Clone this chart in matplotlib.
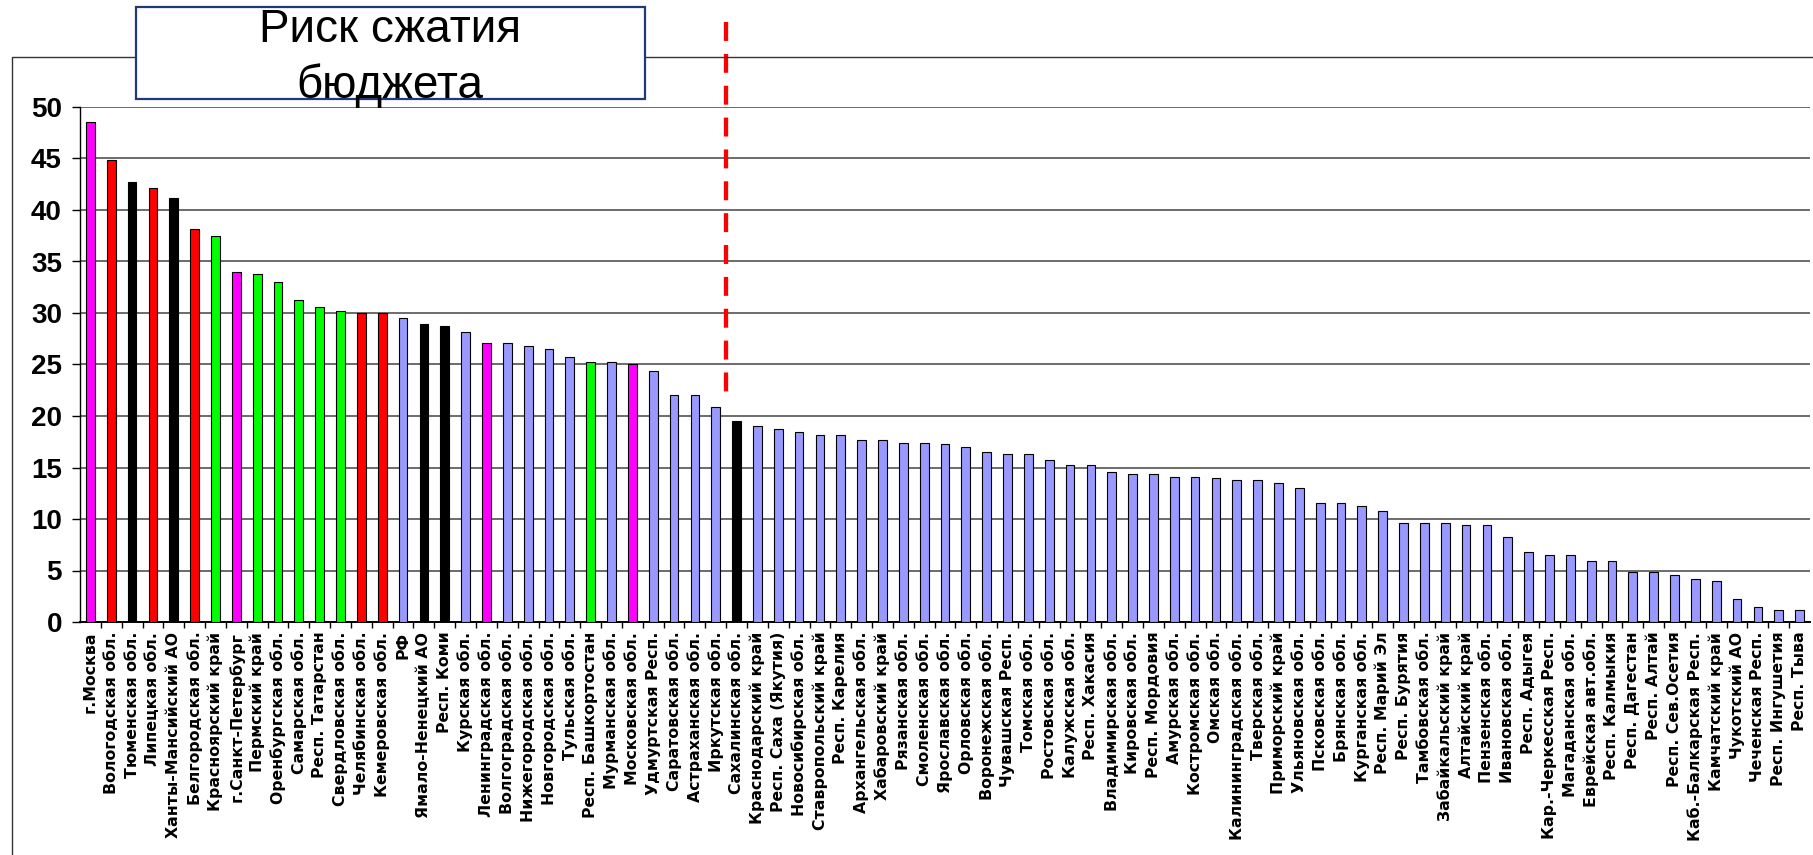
import matplotlib
matplotlib.use("Agg")
import matplotlib.pyplot as plt
from matplotlib.lines import Line2D
from matplotlib.patches import Rectangle
import numpy as np

# regions, sorted by risk value
regions = [
    "г.Москва", "Вологодская обл.", "Тюменская обл.", "Липецкая обл.",
    "Ханты-Мансийский АО", "Белгородская обл.", "Красноярский край",
    "г.Санкт-Петербург", "Пермский край", "Оренбургская обл.", "Самарская обл.",
    "Респ. Татарстан", "Свердловская обл.", "Челябинская обл.", "Кемеровская обл.",
    "РФ", "Ямало-Ненецкий АО", "Респ. Коми", "Курская обл.", "Ленинградская обл.",
    "Волгоградская обл.", "Нижегородская обл.", "Новгородская обл.", "Тульская обл.",
    "Респ. Башкортостан", "Мурманская обл.", "Московская обл.", "Удмуртская Респ.",
    "Саратовская обл.", "Астраханская обл.", "Иркутская обл.", "Сахалинская обл.",
    "Краснодарский край", "Респ. Саха (Якутия)", "Новосибирская обл.",
    "Ставропольский край", "Респ. Карелия", "Архангельская обл.", "Хабаровский край",
    "Рязанская обл.", "Смоленская обл.", "Ярославская обл.", "Орловская обл.",
    "Воронежская обл.", "Чувашская Респ.", "Томская обл.", "Ростовская обл.",
    "Калужская обл.", "Респ. Хакасия", "Владимирская обл.", "Кировская обл.",
    "Респ. Мордовия", "Амурская обл.", "Костромская обл.", "Омская обл.",
    "Калининградская обл.", "Тверская обл.", "Приморский край", "Ульяновская обл.",
    "Псковская обл.", "Брянская обл.", "Курганская обл.", "Респ. Марий Эл",
    "Респ. Бурятия", "Тамбовская обл.", "Забайкальский край", "Алтайский край",
    "Пензенская обл.", "Ивановская обл.", "Респ. Адыгея", "Кар.-Черкесская Респ.",
    "Магаданская обл.", "Еврейская авт.обл.", "Респ. Калмыкия", "Респ. Дагестан",
    "Респ. Алтай", "Респ. Сев.Осетия", "Каб.-Балкарская Респ.", "Камчатский край",
    "Чукотский АО", "Чеченская Респ.", "Респ. Ингушетия", "Респ. Тыва",
]

values = [
    48.5, 44.9, 42.7, 42.1, 41.2, 38.2, 37.5, 34.0, 33.8, 33.0, 31.3,
    30.6, 30.2, 30.0, 30.0, 29.5, 28.9, 28.7, 28.2, 27.1, 27.1, 26.8,
    26.5, 25.7, 25.2, 25.2, 25.0, 24.4, 22.0, 22.0, 20.9, 19.5, 19.0,
    18.7, 18.4, 18.2, 18.2, 17.7, 17.7, 17.4, 17.4, 17.3, 17.0, 16.5,
    16.3, 16.3, 15.7, 15.2, 15.2, 14.6, 14.4, 14.4, 14.1, 14.1, 14.0,
    13.8, 13.8, 13.5, 13.0, 11.6, 11.6, 11.3, 10.8, 9.6, 9.6, 9.6,
    9.4, 9.4, 8.3, 6.8, 6.55, 6.55, 5.95, 5.95, 4.87, 4.87, 4.57,
    4.2, 4.0, 2.27, 1.5, 1.18, 1.18,
]

# group of each region: cap = capitals, met = metallurgy, oil = oil and gas,
# ind = industry, oth = others
groups = (["cap", "met", "oil", "met", "oil", "met", "ind", "cap", "ind", "ind", "ind",
           "ind", "ind", "met", "met", "oth", "oil", "oil", "oth", "cap", "oth", "oth",
           "oth", "oth", "ind", "oth", "cap", "oth", "oth", "oth", "oth", "oil"]
          + ["oth"] * 51)

group_colors = {"cap": "#FF00FF", "met": "#FF0000", "oil": "#000000",
                "ind": "#00FF00", "oth": "#9999FF"}

W, H = 1813, 855
fig = plt.figure(figsize=(W / 100, H / 100), dpi=100)
ax = fig.add_axes([80 / W, 1 - 622 / H, 1730 / W, 515 / H])

x = np.arange(len(regions))
ax.bar(x, values, width=0.42, color=[group_colors[g] for g in groups],
       edgecolor="black", linewidth=0.8, zorder=3)

ax.set_xlim(-0.5, len(regions) - 0.5)
ax.set_ylim(0, 50)
ax.set_yticks(range(0, 51, 5))
ax.yaxis.grid(True, color="#444444", linewidth=1.1, zorder=1)
ax.set_axisbelow(True)

for side in ["top", "right"]:
    ax.spines[side].set_visible(False)
ax.spines["left"].set_linewidth(1.0)
ax.spines["bottom"].set_linewidth(1.4)

ax.set_xticks(x)
ax.set_xticklabels(regions, rotation=90, fontsize=11.3, fontweight="bold",
                   family="DejaVu Sans")
ax.set_xticks(x[:-1] + 0.5, minor=True)
ax.tick_params(axis="x", which="major", length=0, pad=7)
ax.tick_params(axis="x", which="minor", length=4, width=1, direction="out")
ax.tick_params(axis="y", length=6, width=1, direction="out", pad=7)
for lab in ax.get_yticklabels():
    lab.set_family(["Liberation Sans Narrow", "Liberation Sans"])
    lab.set_fontweight("bold")
    lab.set_fontsize(20)

# red dashed boundary between Иркутская and Сахалинская
ax.add_line(Line2D([30.5, 30.5], [58.3, 22.3], color="#FF0000", linewidth=3.1,
                   dashes=(4.4, 3.0), clip_on=False, zorder=5))

# outer frame
fig.add_artist(Line2D([12 / W, 12 / W, 1.0], [0.0, 1 - 57 / H, 1 - 57 / H],
                      color="#333333", linewidth=1.0, transform=fig.transFigure))

# title box
fig.add_artist(Rectangle((136 / W, 1 - 99 / H), 509 / W, 92 / H,
                         facecolor="white", edgecolor="#1F3A7A", linewidth=1.6,
                         transform=fig.transFigure, zorder=6))
title_font = ["Liberation Sans Narrow", "Liberation Sans"]
fig.text(390 / W, 1 - 42 / H, "Риск сжатия", ha="center", va="baseline",
         fontsize=33, family=title_font, zorder=7)
fig.text(390 / W, 1 - 98 / H, "бюджета", ha="center", va="baseline",
         fontsize=33, family=title_font, zorder=7)

fig.savefig("out.png", dpi=100)
